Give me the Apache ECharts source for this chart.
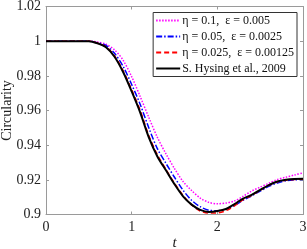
<!DOCTYPE html>
<html>
<head>
<meta charset="utf-8">
<script src="https://cdn.jsdelivr.net/npm/echarts@6/dist/echarts.min.js"></script>
<style>html,body{margin:0;padding:0;background:#fff}#c{width:307px;height:249px}</style>
</head>
<body>
<div id="c"></div>
<script>
const times = [0,0.1,0.2,0.3,0.4,0.5,0.6,0.7,0.8,0.9,1.0,1.1,1.2,1.3,1.4,1.5,1.6,1.7,1.8,1.9,2.0,2.1,2.2,2.3,2.4,2.5,2.6,2.7,2.8,2.9,3.0];
const seriesNames = ['η = 0.1,  ε = 0.005','η = 0.05,  ε = 0.0025','η = 0.025,  ε = 0.00125','S. Hysing et al., 2009'];
const magenta = [1,1,1,1,1,1,0.9995,0.9983,0.995,0.989,0.9795,0.968,0.956,0.9445,0.935,0.9265,0.919,0.9138,0.9095,0.907,0.9062,0.9066,0.9078,0.9105,0.9135,0.9158,0.918,0.9202,0.9215,0.9228,0.924];
const blue = [1,1,1,1,1,1,0.9991,0.9975,0.993,0.9855,0.975,0.9635,0.95,0.938,0.9295,0.9215,0.914,0.9082,0.9045,0.9025,0.9022,0.903,0.9052,0.9082,0.9108,0.9135,0.9162,0.9182,0.9195,0.92,0.9202];
const red = [1,1,1,1,1,1,0.9989,0.9968,0.9915,0.983,0.972,0.96,0.9455,0.9345,0.926,0.918,0.911,0.9055,0.902,0.9008,0.9009,0.9022,0.905,0.9085,0.911,0.914,0.9168,0.9188,0.9198,0.9202,0.9203];
const black = [1,1,1,1,1,1,0.9988,0.9965,0.991,0.9822,0.971,0.9588,0.9445,0.9335,0.9255,0.9175,0.9105,0.9057,0.9027,0.9015,0.902,0.9032,0.906,0.9092,0.9113,0.9142,0.917,0.919,0.92,0.9205,0.9206];
const xTicks = [0,1,2,3];
const yTicks = [0.9,0.92,0.94,0.96,0.98,1,1.02];

const pair = arr => times.map((t,i)=>[t,arr[i]]);
const font = '"Liberation Serif", "DejaVu Serif", serif';
const axisCol = '#9a9a9a';
const chart = echarts.init(document.getElementById('c'), null, {renderer:'canvas'});
const baseAxis = {
  axisLine:{show:true,onZero:false,lineStyle:{color:axisCol,width:1}},
  axisTick:{show:true,inside:true,length:3,lineStyle:{color:axisCol}},
  splitLine:{show:false}
};
chart.setOption({
  animation:false,
  textStyle:{fontFamily:font},
  grid:{left:46,right:4,top:6.5,bottom:34.5,containLabel:false,outerBoundsMode:'none'},
  legend:{
    show:true, orient:'vertical', right:10, top:12.5,
    itemWidth:24, itemHeight:10, itemGap:4,
    padding:[2,3,2,2],
    borderColor:'#333', borderWidth:1, borderRadius:0, backgroundColor:'#fff',
    itemStyle:{opacity:0},
    textStyle:{fontFamily:font,fontSize:12,color:'#111',padding:[0,0,0,-3]},
    data:seriesNames
  },
  xAxis:[
    Object.assign({type:'value',min:xTicks[0],max:xTicks[xTicks.length-1],interval:1,
      name:'t',nameLocation:'middle',nameGap:21,nameMoveOverlap:false,
      nameTextStyle:{fontFamily:font,fontStyle:'italic',fontSize:15,color:'#222'},
      axisLabel:{fontFamily:font,fontSize:14,color:'#222',margin:6}},baseAxis),
    Object.assign({type:'value',position:'top',min:0,max:3,interval:1,axisLabel:{show:false}},baseAxis)
  ],
  yAxis:[
    Object.assign({type:'value',min:yTicks[0],max:yTicks[yTicks.length-1],interval:0.02,
      name:'Circularity',nameLocation:'middle',nameGap:32,nameMoveOverlap:false,
      nameTextStyle:{fontFamily:font,fontSize:14,color:'#222'},
      axisLabel:{fontFamily:font,fontSize:14,color:'#222',margin:5,
        formatter:v=>String(+v.toFixed(2))}},baseAxis),
    Object.assign({type:'value',position:'right',min:0.9,max:1.02,interval:0.02,axisLabel:{show:false}},baseAxis)
  ],
  series:[
    {name:seriesNames[0],type:'line',data:pair(magenta),smooth:0.3,symbol:'none',
      lineStyle:{color:'#ff00ff',width:1.5,type:[1.5,1.5]},itemStyle:{color:'#ff00ff'}},
    {name:seriesNames[1],type:'line',data:pair(blue),smooth:0.3,symbol:'none',
      lineStyle:{color:'#0000ff',width:1.5,type:[6,2,1.5,2]},itemStyle:{color:'#0000ff'}},
    {name:seriesNames[2],type:'line',data:pair(red),smooth:0.3,symbol:'none',
      lineStyle:{color:'#ff0000',width:1.5,type:[5,3]},itemStyle:{color:'#ff0000'}},
    {name:seriesNames[3],type:'line',data:pair(black),smooth:0.3,symbol:'none',
      lineStyle:{color:'#000000',width:2},itemStyle:{color:'#000000'}}
  ]
});
</script>
</body>
</html>
